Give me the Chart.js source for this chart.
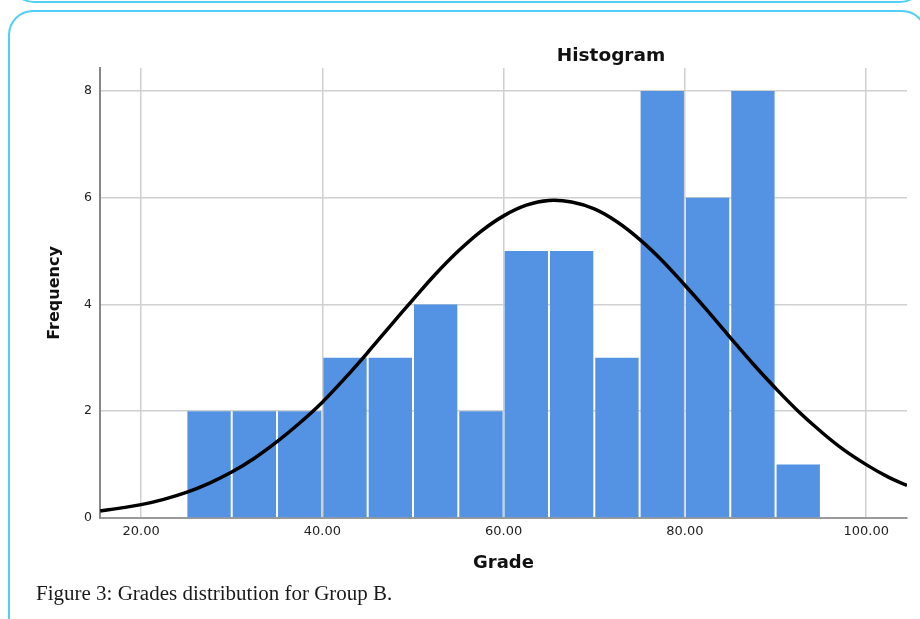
<!DOCTYPE html>
<html>
<head>
<meta charset="utf-8">
<script src="https://cdn.jsdelivr.net/npm/chart.js@4"></script>
<style>
  html, body { margin: 0; padding: 0; background: #fff; }
  body { width: 920px; height: 619px; overflow: hidden; position: relative; }
  .frame { position: absolute; border: 2px solid #52cff7; border-radius: 25px; box-sizing: border-box; }
  #prevFrame { left: 9px; top: -60px; width: 916px; height: 63px; }
  #mainFrame { left: 8px; top: 10px; width: 919px; height: 660px; }
  #chart { position: absolute; left: 0; top: 0; }
  #caption {
    position: absolute; left: 36px; top: 583px;
    font-family: "Liberation Serif", "Times New Roman", serif;
    font-size: 20px; line-height: 20px; color: #1a1a1a;
    white-space: nowrap; transform: scaleX(1.05); transform-origin: left center;
  }
</style>
</head>
<body>
<div class="frame" id="prevFrame"></div>
<div class="frame" id="mainFrame"></div>
<canvas id="chart" width="920" height="619"></canvas>
<div id="caption">Figure 3: Grades distribution for Group B.</div>
<script>
// Histogram bins (lower edge of each 5-point grade interval) and counts
const binStarts = [25, 30, 35, 40, 45, 50, 55, 60, 65, 70, 75, 80, 85, 90];
const binCounts = [2, 2, 2, 3, 3, 4, 2, 5, 5, 3, 8, 6, 8, 1];
const binWidth = 5;

// Fitted normal curve, sampled along the grade axis
const curveX = [15.5, 17.5, 20, 22.5, 25, 27.5, 30, 32.5, 35, 37.5, 40, 42.5, 45, 47.5, 50, 52.5,
                55, 57.5, 60, 62.5, 65, 67.5, 70, 72.5, 75, 77.5, 80, 82.5, 85, 87.5, 90, 92.5,
                95, 97.5, 100, 102.5, 104.5];
const curveY = [0.13, 0.18, 0.25, 0.35, 0.48, 0.65, 0.86, 1.12, 1.43, 1.78, 2.17, 2.62, 3.10, 3.60, 4.09, 4.57,
                5.00, 5.37, 5.66, 5.86, 5.95, 5.92, 5.79, 5.55, 5.22, 4.82, 4.36, 3.88, 3.38, 2.89, 2.43, 2.00,
                1.62, 1.28, 1.00, 0.76, 0.61];

// Axis ticks
const xTicks = [20, 40, 60, 80, 100];
const yTicks = [0, 2, 4, 6, 8];

const chartTitle = 'Histogram';
const xTitle = 'Grade';
const yTitle = 'Frequency';

Chart.defaults.font.family = '"DejaVu Sans", sans-serif';

const barData = binStarts.map((s, i) => ({ x: s + binWidth / 2, y: binCounts[i] }));
const lineData = curveX.map((x, i) => ({ x: x, y: curveY[i] }));

// Title placed over the right half of the plot
const titlePlugin = {
  id: 'histTitle',
  afterDraw(chart) {
    const ctx = chart.ctx;
    ctx.save();
    ctx.font = 'bold 18.5px "DejaVu Sans", sans-serif';
    ctx.fillStyle = '#111';
    ctx.textAlign = 'center';
    ctx.textBaseline = 'alphabetic';
    ctx.fillText(chartTitle, 611, 61);
    ctx.restore();
  }
};

new Chart(document.getElementById('chart'), {
  type: 'bar',
  data: {
    datasets: [
      {
        type: 'line',
        data: lineData,
        borderColor: '#000',
        borderWidth: 3.5,
        pointRadius: 0,
        tension: 0.4,
        fill: false,
        order: 0
      },
      {
        type: 'bar',
        data: barData,
        backgroundColor: '#5492e3',
        borderWidth: 0,
        barPercentage: 0.956,
        categoryPercentage: 1.0,
        order: 1
      }
    ]
  },
  options: {
    responsive: false,
    animation: false,
    devicePixelRatio: 1,
    layout: { padding: { left: 0, top: 68, right: 13, bottom: 0 } },
    plugins: { legend: { display: false }, title: { display: false }, tooltip: { enabled: false } },
    scales: {
      x: {
        type: 'linear',
        min: 15.47,
        max: 104.5,
        offset: false,
        z: 1,
        afterBuildTicks: s => { s.ticks = xTicks.map(v => ({ value: v })); },
        afterFit: s => { s.height = 101; },
        ticks: {
          callback: v => Number(v).toFixed(2),
          font: { size: 13 },
          color: '#222',
          padding: 6,
          maxRotation: 0,
          autoSkip: false
        },
        grid: { color: '#d0d0d0', lineWidth: 1.5, drawTicks: false, offset: false },
        border: { display: true, color: '#9a9a9a', width: 2 },
        title: {
          display: true, text: xTitle, color: '#111',
          font: { size: 18, weight: 'bold' },
          padding: { top: 0, bottom: 45 }
        }
      },
      y: {
        type: 'linear',
        min: 0,
        max: 8.43,
        afterBuildTicks: s => { s.ticks = yTicks.map(v => ({ value: v })); },
        afterFit: s => { s.width = 100; },
        ticks: { font: { size: 12.5 }, color: '#222', padding: 8 },
        grid: { color: '#d0d0d0', lineWidth: 1.5, drawTicks: false },
        border: { display: true, color: '#888', width: 2 },
        title: {
          display: true, text: yTitle, color: '#111',
          font: { size: 16, weight: 'bold' },
          padding: { top: 45, bottom: 0 }
        }
      }
    }
  },
  plugins: [titlePlugin]
});
</script>
</body>
</html>
